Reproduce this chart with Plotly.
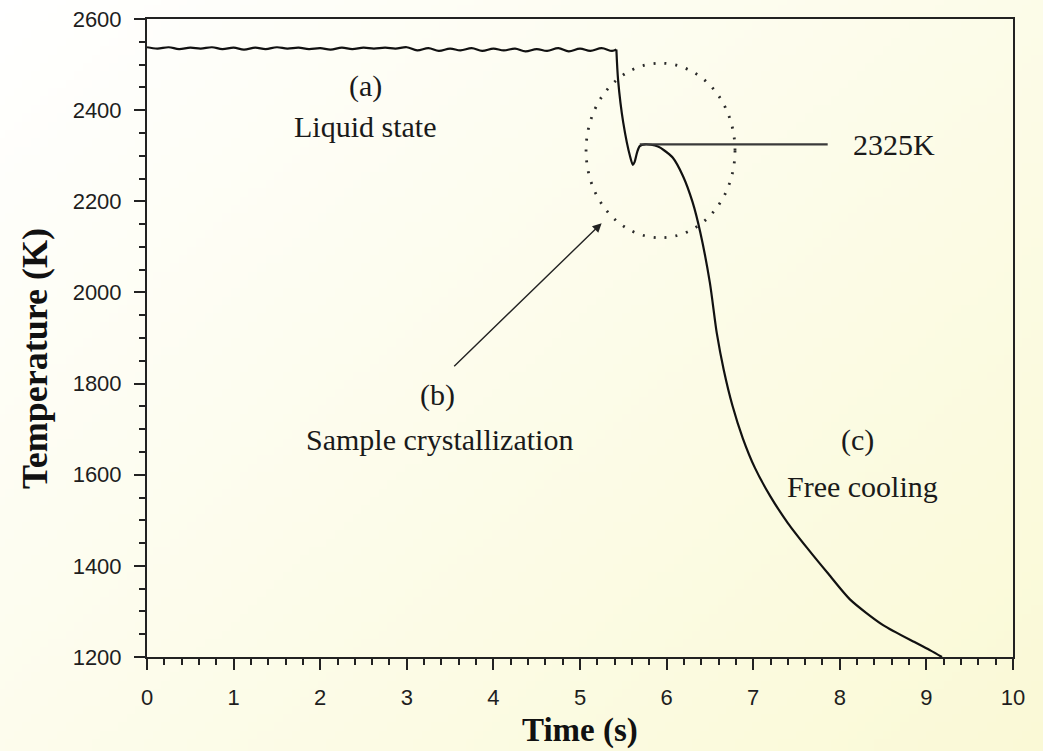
import base64
import struct
import zlib

import plotly.graph_objects as go

# ---- data -----------------------------------------------------------------
# Liquid-state plateau (pyrometer trace before nucleation)
liquid_time = [0.00, 0.12, 0.25, 0.37, 0.50, 0.62, 0.75, 0.87, 1.00, 1.12,
               1.25, 1.37, 1.50, 1.62, 1.75, 1.87, 2.00, 2.12, 2.25, 2.37,
               2.50, 2.62, 2.75, 2.87, 3.00, 3.12, 3.25, 3.37, 3.50, 3.62,
               3.75, 3.87, 4.00, 4.12, 4.25, 4.37, 4.50, 4.62, 4.75, 4.87,
               5.00, 5.12, 5.25, 5.37, 5.42]
liquid_temp = [2538, 2535, 2538, 2534, 2537, 2535, 2538, 2534, 2537, 2533,
               2537, 2534, 2538, 2535, 2537, 2534, 2536, 2533, 2537, 2534,
               2537, 2535, 2537, 2535, 2538, 2531, 2536, 2530, 2535, 2531,
               2536, 2530, 2535, 2531, 2535, 2529, 2534, 2530, 2536, 2529,
               2535, 2530, 2536, 2530, 2533]

# Undercooling, recalescence and free cooling
cooling_time = [5.42, 5.44, 5.50, 5.58, 5.61, 5.63, 5.66, 5.69, 5.75, 5.82,
                5.90, 5.97, 6.07, 6.19, 6.30, 6.39, 6.50, 6.58, 6.66, 6.76,
                6.88, 7.02, 7.20, 7.40, 7.62, 7.87, 8.12, 8.50, 8.89, 9.05,
                9.18]
cooling_temp = [2533, 2466, 2372, 2297, 2280, 2286, 2308, 2321, 2325, 2324,
                2320, 2312, 2296, 2255, 2198, 2131, 2021, 1910, 1830, 1752,
                1680, 1615, 1552, 1494, 1440, 1382, 1326, 1270, 1230, 1214,
                1200]

recalescence_temp = 2325

x_ticks = [0, 1, 2, 3, 4, 5, 6, 7, 8, 9, 10]
y_ticks = [1200, 1400, 1600, 1800, 2000, 2200, 2400, 2600]


# ---- soft diagonal background (white -> pale yellow) -----------------------
def gradient_png(w, h, c0, c1):
    rows = b""
    for j in range(h):
        row = b"\x00"
        for i in range(w):
            f = (i / (w - 1) * 0.55 + j / (h - 1) * 0.45)
            px = bytes(int(round(c0[k] + (c1[k] - c0[k]) * f)) for k in range(3))
            row += px
        rows += row

    def chunk(tag, data):
        c = struct.pack(">I", len(data)) + tag + data
        return c + struct.pack(">I", zlib.crc32(tag + data) & 0xFFFFFFFF)

    png = b"\x89PNG\r\n\x1a\n"
    png += chunk(b"IHDR", struct.pack(">IIBBBBB", w, h, 8, 2, 0, 0, 0))
    png += chunk(b"IDAT", zlib.compress(rows, 9))
    png += chunk(b"IEND", b"")
    return "data:image/png;base64," + base64.b64encode(png).decode()


W, H = 1043, 751
ML, MR, MT, MB = 147, 30, 19, 94
PW, PH = W - ML - MR, H - MT - MB

bg = gradient_png(120, 90, (255, 255, 255), (250, 249, 214))

AXIS = "#222222"
SERIF = "Liberation Serif, Times New Roman, serif"
SANS = "Liberation Sans, Arial, sans-serif"

fig = go.Figure()
fig.add_trace(go.Scatter(
    x=liquid_time, y=liquid_temp, mode="lines",
    line=dict(color="#111111", width=2.2, shape="spline", smoothing=1.0),
    showlegend=False, hoverinfo="skip",
))
fig.add_trace(go.Scatter(
    x=cooling_time, y=cooling_temp, mode="lines",
    line=dict(color="#111111", width=2.2, shape="spline", smoothing=0.7),
    showlegend=False, hoverinfo="skip",
))

# dotted ellipse around the recalescence event
fig.add_shape(type="circle", xref="x", yref="y",
              x0=5.07, x1=6.79, y0=2120, y1=2503,
              line=dict(color="#2a2a2a", width=2.8, dash="2px,9px"))

# leader line marking the recalescence temperature
fig.add_shape(type="line", xref="x", yref="y",
              x0=5.69, x1=7.86, y0=recalescence_temp, y1=recalescence_temp,
              line=dict(color="#3a3a3a", width=2.2))

text_font = dict(family=SERIF, size=30, color="#1a1a1a")
labels = [
    (2.52, 2452, "(a)"),
    (2.52, 2365, "Liquid state"),
    (3.35, 1775, "(b)"),
    (3.38, 1677, "Sample crystallization"),
    (8.20, 1677, "(c)"),
    (8.26, 1574, "Free cooling"),
]
for x, y, t in labels:
    fig.add_annotation(x=x, y=y, text=t, showarrow=False, font=text_font,
                       xanchor="center", yanchor="middle")

fig.add_annotation(x=8.13, y=recalescence_temp, text=f"{recalescence_temp}K",
                   showarrow=False, font=text_font,
                   xanchor="left", yanchor="middle")

# arrow pointing at the crystallization region
fig.add_annotation(x=5.25, y=2152, ax=3.53, ay=1835, axref="x", ayref="y",
                   text="", showarrow=True, arrowhead=2, arrowsize=1.3,
                   arrowwidth=1.4, arrowcolor="#222222")

# axis titles
fig.add_annotation(xref="paper", yref="paper", x=0.5, y=-(730 - (MT + PH)) / PH,
                   text="<b>Time (s)</b>", showarrow=False,
                   font=dict(family=SERIF, size=33, color="#111111"),
                   xanchor="center", yanchor="middle")
fig.add_annotation(xref="paper", yref="paper", x=-(ML - 35) / PW,
                   y=1 - (358 - MT) / PH,
                   text="<b>Temperature (K)</b>", showarrow=False, textangle=-90,
                   font=dict(family=SERIF, size=36, color="#111111"),
                   xanchor="center", yanchor="middle")

fig.add_layout_image(
    source=bg, xref="paper", yref="paper",
    x=-ML / PW, y=1 + MT / PH, sizex=W / PW, sizey=H / PH,
    xanchor="left", yanchor="top", sizing="stretch", layer="below",
)

axis_common = dict(
    showline=True, linecolor=AXIS, linewidth=2, mirror=True,
    ticks="outside", ticklen=11, tickwidth=2, tickcolor=AXIS,
    showgrid=False, zeroline=False,
    tickfont=dict(family=SANS, size=22, color="#1e1e1e"),
)

fig.update_xaxes(range=[0, 10], tickvals=x_ticks, ticklabelstandoff=9,
                 minor=dict(dtick=0.2, ticklen=6, tickwidth=2,
                            tickcolor=AXIS, ticks="outside"),
                 **axis_common)
fig.update_yaxes(range=[1200, 2600], tickvals=y_ticks, ticklabelstandoff=8,
                 minor=dict(dtick=50, ticklen=6, tickwidth=2,
                            tickcolor=AXIS, ticks="outside"),
                 **axis_common)

fig.update_layout(
    width=W, height=H,
    margin=dict(l=ML, r=MR, t=MT, b=MB, autoexpand=False),
    paper_bgcolor="white",
    plot_bgcolor="rgba(0,0,0,0)",
)

fig.write_html("out.html")
